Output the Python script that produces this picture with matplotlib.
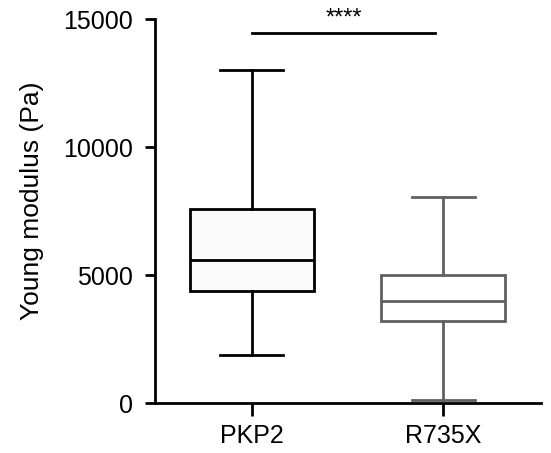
import matplotlib
matplotlib.use("Agg")
import matplotlib.pyplot as plt

plt.rcParams["font.family"] = ["Liberation Sans", "DejaVu Sans"]

groups = ["PKP2", "R735X"]
mins = [1900, 140]
q1s = [4390, 3210]
medians = [5610, 4000]
q3s = [7600, 5000]
maxs = [13000, 8070]
edge_colors = ["#000000", "#606060"]
face_colors = ["#fafafa", "#ffffff"]
sig_label = "****"
sig_y = 14450

fig = plt.figure(figsize=(5.51, 4.53), dpi=100)
ax = fig.add_axes([0.281, 0.110, 0.701, 0.848])

for i, g in enumerate(groups):
    stats = [{"label": g, "whislo": mins[i], "q1": q1s[i], "med": medians[i],
              "q3": q3s[i], "whishi": maxs[i], "fliers": []}]
    c = edge_colors[i]
    ax.bxp(stats, positions=[i], widths=0.65, patch_artist=True,
           showfliers=False,
           boxprops=dict(facecolor=face_colors[i], edgecolor=c, linewidth=2),
           medianprops=dict(color=c, linewidth=2),
           whiskerprops=dict(color=c, linewidth=2),
           capprops=dict(color=c, linewidth=2),
           capwidths=0.33)

# significance bar
ax.plot([0, 0.96], [sig_y, sig_y], color="black", linewidth=2)
ax.text(0.48, sig_y + 150, sig_label, ha="center", va="bottom", fontsize=17)

ax.set_xlim(-0.508, 1.513)
ax.set_ylim(0, 15000)
ax.set_yticks([0, 5000, 10000, 15000])
ax.set_xticks([0, 1])
ax.set_xticklabels(groups)
ax.set_ylabel("Young modulus (Pa)", fontsize=19)
ax.yaxis.set_label_coords(-0.288, 0.526)

for side in ["top", "right"]:
    ax.spines[side].set_visible(False)
for side in ["left", "bottom"]:
    ax.spines[side].set_linewidth(2)
ax.tick_params(axis="both", labelsize=18, width=2, length=7)
ax.tick_params(axis="y", pad=9)
ax.tick_params(axis="x", length=9, pad=6)

fig.savefig("out.png", dpi=100)
